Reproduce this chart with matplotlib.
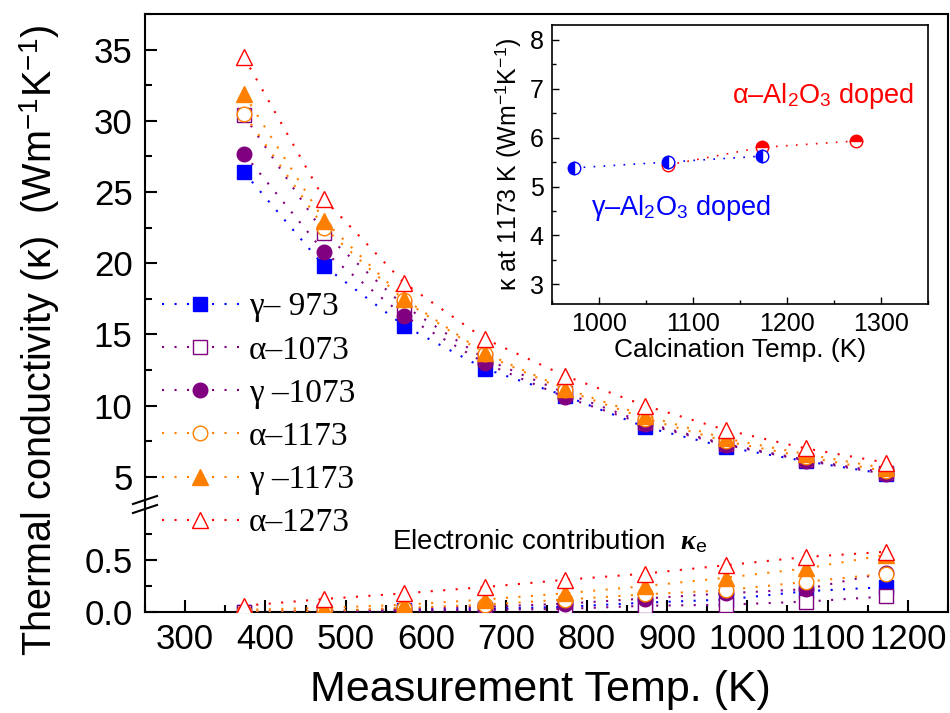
import matplotlib
matplotlib.use("Agg")
import matplotlib.pyplot as plt
from matplotlib.lines import Line2D
from matplotlib.ticker import MultipleLocator, FixedLocator, FormatStrFormatter

plt.rcParams['font.family'] = ['Liberation Sans', 'DejaVu Sans']
plt.rcParams['mathtext.fontset'] = 'custom'
plt.rcParams['mathtext.rm'] = 'Liberation Sans'
plt.rcParams['mathtext.it'] = 'Liberation Serif:italic:bold'
plt.rcParams['mathtext.bf'] = 'Liberation Sans:bold'

# measurement temperatures (K)
temps = [373, 473, 573, 673, 773, 873, 973, 1073, 1173]
labels = ["γ– 973", "α–1073", "γ –1073", "α–1173", "γ –1173", "α–1273"]

# total thermal conductivity (W m-1 K-1)
k_g973 = [26.4, 19.8, 15.6, 12.6, 10.7, 8.5, 7.1, 6.1, 5.2]
k_a1073 = [30.4, 22.1, 17.0, 13.3, 10.9, 8.8, 7.3, 6.2, 5.3]
k_g1073 = [27.7, 20.8, 16.3, 13.0, 10.6, 8.7, 7.25, 6.15, 5.2]
k_a1173 = [30.5, 22.5, 17.4, 13.6, 11.1, 9.1, 7.5, 6.4, 5.4]
k_g1173 = [31.9, 23.0, 17.5, 13.7, 11.2, 9.3, 7.7, 6.6, 5.6]
k_a1273 = [34.5, 24.5, 18.6, 14.7, 12.1, 10.0, 8.3, 7.0, 6.0]

# electronic contribution
ke_g973 = [0.0, 0.005, 0.02, 0.03, 0.05, 0.09, 0.12, 0.20, 0.24]
ke_a1073 = [0.0, 0.0, 0.01, 0.02, 0.03, 0.06, 0.07, 0.10, 0.15]
ke_g1073 = [0.0, 0.01, 0.03, 0.05, 0.08, 0.13, 0.18, 0.22, 0.38]
ke_a1173 = [0.0, 0.01, 0.04, 0.07, 0.12, 0.17, 0.21, 0.29, 0.37]
ke_g1173 = [0.02, 0.04, 0.07, 0.12, 0.18, 0.25, 0.33, 0.42, 0.55]
ke_a1273 = [0.06, 0.125, 0.18, 0.24, 0.31, 0.37, 0.45, 0.53, 0.58]

# inset: kappa at 1173 K vs calcination temperature
calc_g = [973, 1073, 1173]
kc_g = [5.38, 5.50, 5.62]
calc_a = [1073, 1173, 1273]
kc_a = [5.44, 5.80, 5.93]

series = [
    (k_g973, ke_g973, '#0000ff', 's', '#0000ff', 9.5),
    (k_a1073, ke_a1073, '#800080', 's', 'white', 9.5),
    (k_g1073, ke_g1073, '#800080', 'o', '#800080', 10.5),
    (k_a1173, ke_a1173, '#ff8000', 'o', 'white', 10.5),
    (k_g1173, ke_g1173, '#ff8000', '^', '#ff8000', 12),
    (k_a1273, ke_a1273, '#ff0000', '^', 'white', 12),
]
dots = (0, (1, 5))

W, H = 950, 713
fig = plt.figure(figsize=(W / 100, H / 100), dpi=100)
L, R, T, B, BR = 145, 948, 14, 612, 504
ax_top = fig.add_axes([L / W, 1 - BR / H, (R - L) / W, (BR - T) / H])
ax_bot = fig.add_axes([L / W, 1 - B / H, (R - L) / W, (B - BR) / H])

handles = []
for i, (k, ke, c, m, fc, ms) in enumerate(series):
    kw = dict(color=c, ls=dots, lw=1.5, marker=m, ms=ms, mfc=fc, mec=c, mew=1.0, zorder=3 + i)
    h, = ax_top.plot(temps, k, **kw)
    ax_bot.plot(temps, ke, **kw)
    handles.append(h)

for ax in (ax_top, ax_bot):
    ax.set_xlim(250, 1250)
    for s in ax.spines.values():
        s.set_linewidth(1.5)
    ax.tick_params(which='both', direction='in', width=1.5, labelsize=25, top=False, right=False)
    ax.tick_params(which='major', length=8.5, pad=9)
    ax.tick_params(which='minor', length=5)

ax_top.set_ylim(3.1, 37.5)
ax_top.yaxis.set_major_locator(MultipleLocator(5))
ax_top.yaxis.set_minor_locator(MultipleLocator(2.5))
ax_top.spines['bottom'].set_visible(False)
ax_top.tick_params(which='both', bottom=False, labelbottom=False)

ax_bot.set_ylim(0, 1.04)
ax_bot.yaxis.set_major_locator(FixedLocator([0.0, 0.5]))
ax_bot.yaxis.set_minor_locator(FixedLocator([0.25, 0.75]))
ax_bot.yaxis.set_major_formatter(FormatStrFormatter('%.1f'))
ax_bot.spines['top'].set_visible(False)
ax_bot.xaxis.set_major_locator(MultipleLocator(100))
ax_bot.xaxis.set_minor_locator(MultipleLocator(50))
ax_bot.tick_params(axis='x', pad=8)

# axis break marks
for dy in (0, 9):
    fig.add_artist(Line2D([133 / W, 157 / W], [1 - (504 + dy) / H, 1 - (496 + dy) / H],
                          color='k', lw=1.5))

ax_bot.text(557, 0.68, r"Electronic contribution  $\kappa_{\mathrm{e}}$", fontsize=20, va='center')

fig.legend(handles, labels, loc='upper left', bbox_to_anchor=(162 / W, 1 - 292 / H),
           frameon=False, numpoints=1,
           prop={'family': 'Liberation Serif', 'size': 24}, handlelength=2.3,
           handletextpad=0.3, labelspacing=0.38, borderpad=0, borderaxespad=0)

fig.text(40 / W, 1 - 340 / H, r"Thermal conductivity (κ)  (Wm$^{-1}$K$^{-1}$)",
         rotation=90, ha='center', va='center', fontsize=28.5)
fig.text(540 / W, 1 - 690 / H, "Measurement Temp. (K)", ha='center', va='center', fontsize=31)

# inset
ax_in = fig.add_axes([552 / W, 1 - 304 / H, 376 / W, 279 / H])
ax_in.plot(calc_g, kc_g, color='#0000ff', ls=dots, lw=1.2, marker='o', ms=9,
           fillstyle='left', mfc='#0000ff', mfcalt='white', mec='#0000ff', zorder=4)
ax_in.plot(calc_a, kc_a, color='#ff0000', ls=dots, lw=1.2, marker='o', ms=9,
           fillstyle='top', mfc='#ff0000', mfcalt='white', mec='#ff0000', zorder=3)
ax_in.set_xlim(950, 1350)
ax_in.set_ylim(2.6, 8.3)
ax_in.xaxis.set_major_locator(MultipleLocator(100))
ax_in.xaxis.set_minor_locator(MultipleLocator(50))
ax_in.yaxis.set_major_locator(MultipleLocator(1))
ax_in.yaxis.set_minor_locator(MultipleLocator(0.5))
ax_in.tick_params(which='both', direction='in', labelsize=18, width=1.0, top=False, right=False)
ax_in.tick_params(which='major', length=5, pad=6)
ax_in.tick_params(which='minor', length=3)
for s in ax_in.spines.values():
    s.set_linewidth(1.2)
ax_in.set_xlabel("Calcination Temp. (K)", fontsize=19, labelpad=1)
ax_in.set_ylabel(r"κ at 1173 K (Wm$^{-1}$K$^{-1}$)", fontsize=18, labelpad=5)
ax_in.text(1141, 6.84, r"α–Al$_2$O$_3$ doped", color='#ff0000', fontsize=19.5, va='center')
ax_in.text(992, 4.57, r"γ–Al$_2$O$_3$ doped", color='#0000ff', fontsize=19.5, va='center')

fig.savefig("out.png", dpi=100)
